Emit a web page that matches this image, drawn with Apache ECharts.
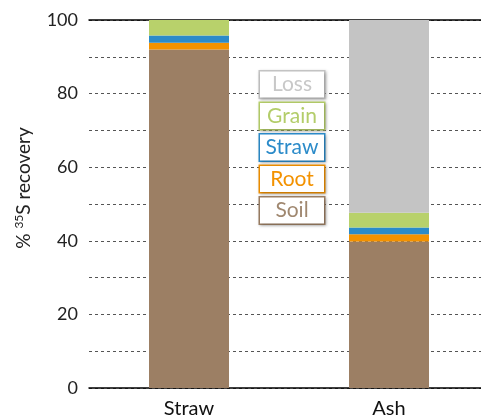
<!DOCTYPE html>
<html>
<head>
<meta charset="utf-8">
<script src="https://cdn.jsdelivr.net/npm/echarts@6/dist/echarts.min.js"></script>
<style>
  html, body { margin: 0; padding: 0; background: #fff; }
  #main { width: 481px; height: 419px; }
</style>
</head>
<body>
<div id="main"></div>
<script>
// categories and stacked values (% recovery)
var categories = ['Straw', 'Ash'];
var soil  = [92.0, 39.8];
var root  = [1.8, 2.0];
var straw = [2.0, 1.8];
var grain = [4.2, 4.0];
var loss  = [0, 52.4];

var legendOrder = ['Loss', 'Grain', 'Straw', 'Root', 'Soil'];
var colors = {
  Soil: '#9c7f64',
  Root: '#f39200',
  Straw: '#2b8bc9',
  Grain: '#b8d16b',
  Loss: '#c4c4c4'
};
var textColors = {
  Soil: '#a08870',
  Root: '#f39200',
  Straw: '#2b8bc9',
  Grain: '#b3cd6a',
  Loss: '#c8c8c8'
};

var font = 'Lato, "Open Sans", sans-serif';

function makeSeries(name, data) {
  return {
    name: name,
    type: 'bar',
    stack: 'total',
    barWidth: 80,
    data: data,
    itemStyle: { color: colors[name] },
    emphasis: { disabled: true }
  };
}

// one boxed text style per legend entry
var legendRich = {};
legendOrder.forEach(function (n) {
  legendRich[n] = {
    color: textColors[n],
    fontFamily: font,
    fontSize: 21,
    width: 64,
    height: 26,
    lineHeight: 26,
    align: 'center',
    borderColor: colors[n],
    borderWidth: 1.5,
    backgroundColor: '#fff',
    shadowColor: 'rgba(0,0,0,0.25)',
    shadowBlur: 3,
    shadowOffsetX: 1,
    shadowOffsetY: 1
  };
});

var myChart = echarts.init(document.getElementById('main'));
myChart.setOption({
  animation: false,
  grid: { left: 89, width: 400, top: 20, bottom: 31, outerBoundsMode: 'none', containLabel: false },
  legend: {
    orient: 'vertical',
    left: 250,
    top: 65,
    itemWidth: 0,
    itemHeight: 0,
    itemGap: 2.5,
    icon: 'rect',
    selectedMode: false,
    data: legendOrder,
    formatter: function (name) { return '{' + name + '|' + name + '}'; },
    textStyle: { rich: legendRich }
  },
  xAxis: [{
    type: 'category',
    data: categories,
    axisLine: { lineStyle: { color: '#000', width: 1.5 } },
    axisTick: { show: false },
    axisLabel: { color: '#111', fontSize: 20, fontFamily: font, margin: 11 }
  }, {
    type: 'category',
    position: 'top',
    data: categories,
    axisLine: { lineStyle: { color: '#000', width: 1.5 } },
    axisTick: { show: false },
    axisLabel: { show: false }
  }],
  yAxis: {
    type: 'value',
    min: 0,
    max: 100,
    interval: 10,
    name: '% {sup|35}S recovery',
    nameLocation: 'middle',
    nameGap: 55,
    nameTextStyle: {
      color: '#222',
      fontSize: 19,
      fontFamily: font,
      padding: [0, 0, 0, 32],
      rich: {
        sup: { fontSize: 12, verticalAlign: 'top', padding: [0, 0, 9, 0], color: '#222', fontFamily: font }
      }
    },
    axisLine: { show: false },
    axisTick: { show: false },
    axisLabel: {
      color: '#222',
      fontSize: 18,
      fontFamily: font,
      margin: 11,
      formatter: function (v) { return v % 20 === 0 ? String(v) : ''; }
    },
    splitLine: { lineStyle: { color: '#555', type: [3, 3], width: 1 } }
  },
  series: [
    makeSeries('Soil', soil),
    makeSeries('Root', root),
    makeSeries('Straw', straw),
    makeSeries('Grain', grain),
    makeSeries('Loss', loss)
  ]
});
</script>
</body>
</html>
